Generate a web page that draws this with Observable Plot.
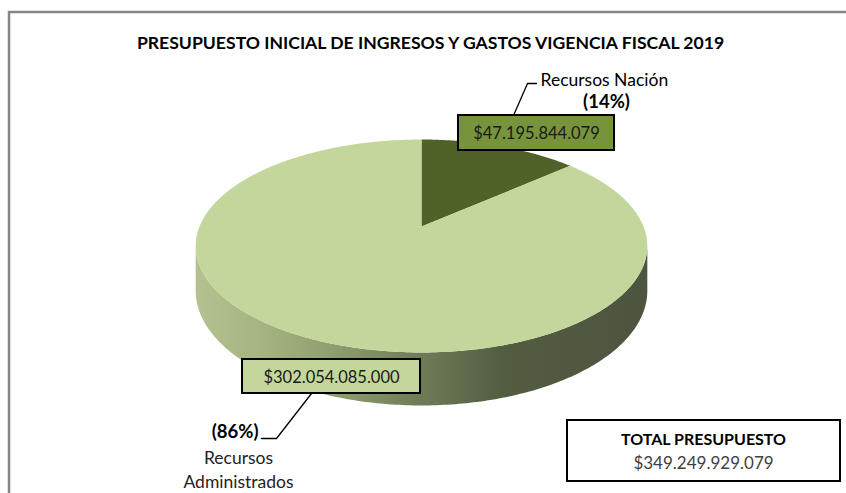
<!DOCTYPE html>
<html>
<head>
<meta charset="utf-8">
<script src="https://cdn.jsdelivr.net/npm/d3@7"></script>
<script src="https://cdn.jsdelivr.net/npm/@observablehq/plot@0.6"></script>
<style>
  html, body { margin: 0; padding: 0; background: #fff; }
  #chart svg { display: block; }
</style>
</head>
<body>
<div id="chart"></div>
<script>
// ---------- data ----------
const title = "PRESUPUESTO INICIAL DE INGRESOS Y GASTOS VIGENCIA FISCAL 2019";
const categories = ["Recursos Nación", "Recursos Administrados"];
const values = [47195844079, 302054085000];
const totalTitle = "TOTAL PRESUPUESTO";

// ---------- styles / layout ----------
const W = 846, H = 493;
const FONT = "Lato, 'Open Sans', sans-serif";
const sliceColors = ["#4f6228", "#c3d69b"];
const boxColors = ["#77933c", "#c3d69b"];

const loc = d3.formatLocale({decimal: ",", thousands: ".", grouping: [3], currency: ["$", ""]});
const money = loc.format("$,.0f");
const total = d3.sum(values);
const pcts = values.map(v => Math.round(v / total * 100));

// pie projection (slight perspective)
const cx = 421, cy = 226, A = 222, B = 102.9, K = 0.183, T = 43.3;
function proj(theta, h) {
  const u = Math.sin(theta), v = -Math.cos(theta);
  const w = 1 - K * v;
  return {x: cx + A * u / w, y: cy + (B * v + T * h) / w};
}

// slices on top face
const slices = [];
let acc = 0;
values.forEach((v, i) => {
  const a0 = acc / total * 2 * Math.PI;
  acc += v;
  const a1 = acc / total * 2 * Math.PI;
  const n = Math.max(4, Math.ceil((a1 - a0) / 0.01));
  slices.push({id: i, x: cx, y: cy});
  for (let j = 0; j <= n; j++) {
    const p = proj(a0 + (a1 - a0) * j / n, 0);
    slices.push({id: i, x: p.x, y: p.y});
  }
});

// visible side wall (front half, between silhouettes)
const tR = Math.acos(-K), tL = 2 * Math.PI - Math.acos(-K);
const side = [];
const ns = 200;
for (let j = 0; j <= ns; j++) { const p = proj(tR + (tL - tR) * j / ns, 0); side.push(p); }
for (let j = ns; j >= 0; j--) { const p = proj(tR + (tL - tR) * j / ns, 1); side.push(p); }

// label layout
const boxes = [
  {x1: 458, x2: 614, y1: 115, y2: 150, fill: boxColors[0], label: money(values[0]), tx: 536, ty: 133},
  {x1: 242, x2: 420, y1: 359, y2: 393, fill: boxColors[1], label: money(values[1]), tx: 331, ty: 377}
];
const leaders = [
  {id: 0, x: 513, y: 115}, {id: 0, x: 527, y: 83}, {id: 0, x: 536, y: 83},
  {id: 1, x: 311, y: 393}, {id: 1, x: 276, y: 438}, {id: 1, x: 261, y: 438}
];
const nameStart = [{text: categories[0], x: 540, y: 80}];
const pctNacion = [{text: `(${pcts[0]}%)`, x: 606, y: 102}];
const pctAdmin = [{text: `(${pcts[1]}%)`, x: 258, y: 432}];
const nameMid = [
  {text: categories[1].split(" ")[0], x: 238, y: 458},
  {text: categories[1].split(" ")[1], x: 238, y: 482}
];

const chart = Plot.plot({
  width: W, height: H, margin: 0,
  style: {fontFamily: FONT, background: "#fff"},
  x: {type: "linear", domain: [0, W], range: [0, W], axis: null},
  y: {type: "linear", domain: [0, H], range: [0, H], axis: null},
  marks: [
    // outer chart frame
    Plot.rect([{x1: 9, x2: 1000, y1: 12, y2: 1000}], {x1: "x1", x2: "x2", y1: "y1", y2: "y2", fill: "none", stroke: "#868686", strokeWidth: 2.5}),
    // title
    Plot.text([title], {x: 430, y: 43, text: d => d, fontSize: 17.6, fontWeight: "bold", fill: "#000", textAnchor: "middle"}),
    // side wall
    Plot.line(side, {x: "x", y: "y", fill: "url(#sideGrad)", stroke: "none", curve: "linear"}),
    // top slices
    Plot.line(slices, {x: "x", y: "y", z: "id", fill: d => sliceColors[d.id], stroke: "none", curve: "linear"}),
    // leader lines
    Plot.line(leaders, {x: "x", y: "y", z: "id", stroke: "#000", strokeWidth: 1.3}),
    // value boxes
    Plot.rect(boxes, {x1: "x1", x2: "x2", y1: "y1", y2: "y2", fill: "fill", stroke: "#000", strokeWidth: 2}),
    Plot.text(boxes, {x: "tx", y: "ty", text: "label", fontSize: 16.5, fill: "#1a1a1a", textAnchor: "middle"}),
    // category / pct labels
    Plot.text(nameStart, {x: "x", y: "y", text: "text", textAnchor: "start", fontSize: 17.5, fill: "#000"}),
    Plot.text(nameMid, {x: "x", y: "y", text: "text", textAnchor: "middle", fontSize: 17.5, fill: "#222"}),
    Plot.text(pctNacion, {x: "x", y: "y", text: "text", textAnchor: "middle", fontSize: 18.5, fontWeight: "bold", fill: "#000"}),
    Plot.text(pctAdmin, {x: "x", y: "y", text: "text", textAnchor: "end", fontSize: 18.5, fontWeight: "bold", fill: "#000"}),
    // total box
    Plot.rect([{x1: 567, x2: 840, y1: 420, y2: 481}], {x1: "x1", x2: "x2", y1: "y1", y2: "y2", fill: "#fff", stroke: "#000", strokeWidth: 2}),
    Plot.text([totalTitle], {x: 703, y: 439, text: d => d, fontSize: 16, fontWeight: "bold", fill: "#000", textAnchor: "middle"}),
    Plot.text([money(total)], {x: 703, y: 463, text: d => d, fontSize: 17, fill: "#404040", textAnchor: "middle"})
  ]
});

// gradient for side wall
const ns_ = "http://www.w3.org/2000/svg";
const defs = document.createElementNS(ns_, "defs");
const grad = document.createElementNS(ns_, "linearGradient");
grad.setAttribute("id", "sideGrad");
grad.setAttribute("x1", "0"); grad.setAttribute("x2", "1");
grad.setAttribute("y1", "0"); grad.setAttribute("y2", "0");
[[0, "#b4c292"], [0.15, "#a5b380"], [0.3, "#909f6f"], [0.5, "#6e7b56"], [0.68, "#535d41"], [1, "#4d543f"]].forEach(([o, c]) => {
  const s = document.createElementNS(ns_, "stop");
  s.setAttribute("offset", o); s.setAttribute("stop-color", c);
  grad.appendChild(s);
});
defs.appendChild(grad);
chart.insertBefore(defs, chart.firstChild);

document.getElementById("chart").appendChild(chart);
</script>
</body>
</html>
